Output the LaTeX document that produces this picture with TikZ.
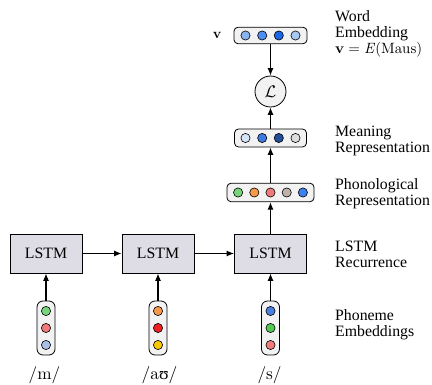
\documentclass[tikz,border=0pt]{standalone}
\usepackage[no-math]{fontspec}
\setmainfont{Liberation Serif}
\newfontfamily\lmfont{Latin Modern Roman}
\newfontfamily\ipafont{Liberation Serif}
\usetikzlibrary{arrows.meta}
\definecolor{boxgray}{RGB}{242,242,242}
\definecolor{lstmfill}{RGB}{222,220,228}
\definecolor{wA}{HTML}{8AB4F0}
\definecolor{wB}{HTML}{4D8EF0}
\definecolor{wC}{HTML}{1A66E6}
\definecolor{wD}{HTML}{A8C8F4}
\definecolor{mA}{HTML}{D6E4F8}
\definecolor{mB}{HTML}{3C7CE0}
\definecolor{mC}{HTML}{1F4E9A}
\definecolor{mD}{HTML}{DCDEDE}
\definecolor{pGreen}{HTML}{77D47A}
\definecolor{pOrange}{HTML}{F59A4A}
\definecolor{pPink}{HTML}{F07A7A}
\definecolor{pTaupe}{HTML}{BDB3AB}
\definecolor{pBlue}{HTML}{3B82F0}
\definecolor{eLightBlue}{HTML}{A8C0E8}
\definecolor{eRed}{HTML}{F02020}
\definecolor{eYellow}{HTML}{F5C800}
\definecolor{eBlue}{HTML}{4A80E0}
\definecolor{eGreen}{HTML}{4ECB4E}
\newcommand{\fitw}[2]{\resizebox{#1}{!}{\fontsize{10}{10}\selectfont\lmfont #2}}
\begin{document}
\begin{tikzpicture}[x=1pt,y=-1pt,
  font=\fontsize{15.8}{15.7}\selectfont,
  vecbox/.style={draw, fill=boxgray, rounded corners=4pt, line width=0.8pt, inner sep=0pt},
  unit/.style={circle, draw, line width=0.6pt, minimum size=9.2pt, inner sep=0pt},
  lstm/.style={draw, fill=lstmfill, line width=0.8pt, minimum width=72pt, minimum height=39pt, inner sep=0pt},
  arr/.style={-{Latex[length=7.5pt,width=6pt]}, line width=1.1pt},
  lbl/.style={anchor=base west, inner sep=0pt, align=left},
  phon/.style={anchor=base, inner sep=0pt}]
\useasboundingbox (0,0) rectangle (432,385);

% LSTM boxes
\node[lstm] (l1) at (46,253.5) {LSTM};
\node[lstm] (l2) at (158,253.5) {LSTM};
\node[lstm] (l3) at (270.5,253.5) {LSTM};

% phoneme embeddings
\node[vecbox, rounded corners=6pt, minimum width=18pt, minimum height=54pt] (p1) at (46,328) {};
\node[unit, fill=pGreen] (p1a) at (46,311) {};
\node[unit, fill=pPink] (p1b) at (46,328) {};
\node[unit, fill=eLightBlue] (p1c) at (46,345) {};

\node[vecbox, rounded corners=6pt, minimum width=18pt, minimum height=54pt] (p2) at (158,328) {};
\node[unit, fill=pOrange] (p2a) at (158,311) {};
\node[unit, fill=eRed] (p2b) at (158,328) {};
\node[unit, fill=eYellow] (p2c) at (158,345) {};

\node[vecbox, rounded corners=6pt, minimum width=18pt, minimum height=54pt] (p3) at (270.5,328) {};
\node[unit, fill=eBlue] (p3a) at (270.5,311) {};
\node[unit, fill=eGreen] (p3b) at (270.5,328) {};
\node[unit, fill=pPink] (p3c) at (270.5,345) {};

% phoneme labels
\node[phon] (t1) at (44.5,380) {\fitw{31.5pt}{/m/}};
\node[phon] (t2) at (159.5,380) {\fitw{35.6pt}{/a{\ipafont\fontsize{10}{10}\selectfont ʊ}/}};
\node[phon] (t3) at (269.5,380) {\fitw{24pt}{/s/}};

% phonological representation
\node[vecbox, minimum width=87pt, minimum height=18.5pt] (ph) at (270.5,192.5) {};
\node[unit, fill=pGreen] (ph1) at (238.1,192.5) {};
\node[unit, fill=pOrange] (ph2) at (254.3,192.5) {};
\node[unit, fill=pPink] (ph3) at (270.5,192.5) {};
\node[unit, fill=pTaupe] (ph4) at (286.7,192.5) {};
\node[unit, fill=pBlue] (ph5) at (302.9,192.5) {};

% meaning representation
\node[vecbox, minimum width=72pt, minimum height=18pt] (mr) at (270.5,138) {};
\node[unit, fill=mA] (mr1) at (245.5,138) {};
\node[unit, fill=mB] (mr2) at (262.2,138) {};
\node[unit, fill=mC] (mr3) at (278.8,138) {};
\node[unit, fill=mD] (mr4) at (295.5,138) {};

% loss
\node[circle, draw, fill=boxgray, minimum size=31pt, inner sep=0pt, line width=0.8pt] (L) at (270.5,91.5) {\resizebox{!}{11.5pt}{$\mathcal{L}$}};

% word embedding
\node[vecbox, minimum width=73pt, minimum height=16.5pt] (we) at (270.5,35.5) {};
\node[unit, fill=wA] (we1) at (245.5,35.5) {};
\node[unit, fill=wB] (we2) at (262.2,35.5) {};
\node[unit, fill=wC] (we3) at (278.8,35.5) {};
\node[unit, fill=wD] (we4) at (295.5,35.5) {};
\node[anchor=base, inner sep=0pt] (vlab) at (217,39) {\fitw{8.5pt}{\bfseries v}};

% connectors
\draw[arr] (l1) -- (l2);
\draw[arr] (l2) -- (l3);
\draw[arr] (p1) -- (l1);
\draw[arr] (p2) -- (l2);
\draw[arr] (p3) -- (l3);
\draw[arr] (l3) -- (ph);
\draw[arr] (ph) -- (mr);
\draw[arr] (mr) -- (L);
\draw[arr] (we) -- (L);

% right-hand labels (anchored at last line's baseline)
\node[lbl] (r1) at (335,53.4) {Word\\Embedding\\\fitw{87pt}{\textbf{v}\hspace{0.28em}=\hspace{0.28em}\textit{E}(Maus)}};
\node[lbl] (r2) at (335,152.7) {Meaning\\Representation};
\node[lbl] (r3) at (335,205.7) {Phonological\\Representation};
\node[lbl] (r4) at (335,267.4) {LSTM\\Recurrence};
\node[lbl] (r5) at (335,336.2) {Phoneme\\Embeddings};
\end{tikzpicture}
\end{document}
